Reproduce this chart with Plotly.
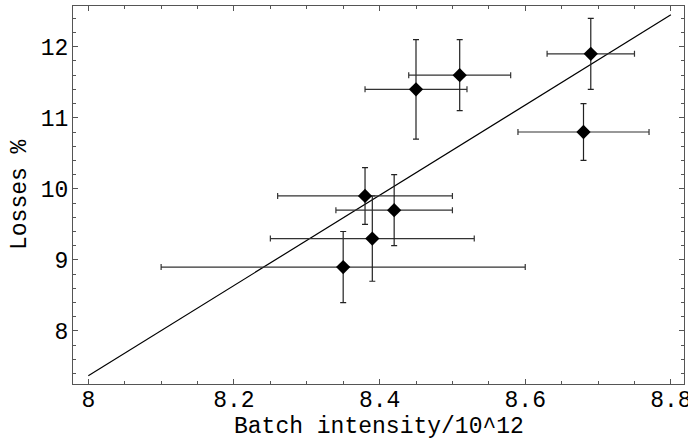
import plotly.graph_objects as go

# Data
intensity = [8.35, 8.39, 8.38, 8.42, 8.45, 8.51, 8.69, 8.68]
intensity_err = [0.25, 0.14, 0.12, 0.08, 0.07, 0.07, 0.06, 0.09]
losses = [8.9, 9.3, 9.9, 9.7, 11.4, 11.6, 11.9, 10.8]
losses_err = [0.5, 0.6, 0.4, 0.5, 0.7, 0.5, 0.5, 0.4]

fit_x = [8.0, 8.8]
fit_y = [7.37, 12.45]

x_ticks = [8.0, 8.2, 8.4, 8.6, 8.8]
x_tick_labels = ["8", "8.2", "8.4", "8.6", "8.8"]
y_ticks = [8, 9, 10, 11, 12]
y_tick_labels = ["8", "9", "10", "11", "12"]

x_title = "Batch intensity/10^12"
y_title = "Losses %"

font_family = "Liberation Mono, Courier New, monospace"
frame_color = "#555555"
font_size = 23

fig = go.Figure()

fig.add_trace(go.Scatter(
    x=fit_x, y=fit_y, mode="lines",
    line=dict(color="black", width=1.2),
    showlegend=False, hoverinfo="skip",
))

fig.add_trace(go.Scatter(
    x=intensity, y=losses, mode="markers",
    marker=dict(symbol="diamond", size=11, color="black"),
    error_x=dict(type="data", array=intensity_err, color="#333333", thickness=1.2, width=3),
    error_y=dict(type="data", array=losses_err, color="#222222", thickness=1.2, width=3),
    showlegend=False,
))

axis_common = dict(
    showgrid=False, zeroline=False, automargin=False,
    showline=True, linecolor=frame_color, linewidth=1.2,
    mirror="allticks",
    ticks="inside", ticklen=5, tickwidth=1, tickcolor=frame_color,
    tickfont=dict(family=font_family, size=font_size, color="black"),
    ticklabeloverflow="allow",
)

fig.update_xaxes(
    range=[7.979, 8.818],
    tickmode="array", tickvals=x_ticks, ticktext=x_tick_labels,
    minor=dict(dtick=0.05, ticks="inside", ticklen=3, tickcolor=frame_color, showgrid=False),
    ticklabelstandoff=-6,
    **axis_common,
)
fig.update_yaxes(
    range=[7.254, 12.573],
    tickmode="array", tickvals=y_ticks, ticktext=y_tick_labels,
    minor=dict(dtick=0.2, ticks="inside", ticklen=3, tickcolor=frame_color, showgrid=False),
    ticklabelstandoff=-1,
    **axis_common,
)

fig.update_layout(
    width=688, height=440,
    margin=dict(l=73, r=4, t=6, b=56),
    plot_bgcolor="white", paper_bgcolor="white",
    annotations=[
        dict(text=x_title, xref="paper", yref="paper", x=0.5, y=(384 - 427) / 378,
             xanchor="center", yanchor="middle", showarrow=False,
             font=dict(family=font_family, size=font_size, color="black")),
        dict(text=y_title, xref="paper", yref="paper", x=(20 - 73) / 611, y=0.5,
             xanchor="center", yanchor="middle", textangle=-90, showarrow=False,
             font=dict(family=font_family, size=font_size, color="black")),
    ],
)

fig.write_html(
    "out.html",
    config={"displayModeBar": False},
    post_script="document.body.style.margin='0px';document.body.style.overflow='hidden';",
)
